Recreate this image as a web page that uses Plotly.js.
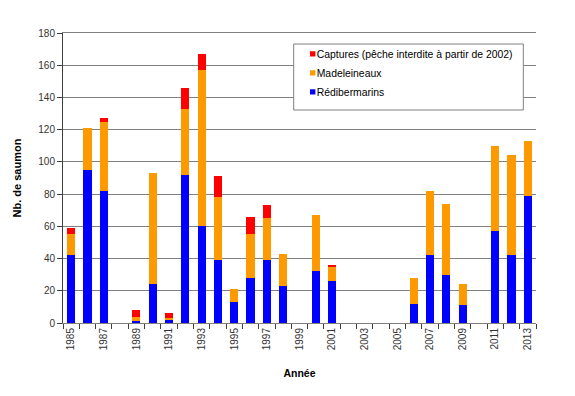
<!DOCTYPE html>
<html>
<head>
<meta charset="utf-8">
<script src="https://cdn.plot.ly/plotly-3.0.1.min.js"></script>
<style>html,body{margin:0;padding:0;background:#fff;}#chart{width:575px;height:396px;}</style>
</head>
<body>
<div id="chart"></div>
<script>
const years = [1985,1986,1987,1988,1989,1990,1991,1992,1993,1994,1995,1996,1997,1998,1999,2000,2001,2002,2003,2004,2005,2006,2007,2008,2009,2010,2011,2012,2013];
const redibermarins = [42,95,82,0,1,24,2,92,60,39,13,28,39,23,0,32,26,0,0,0,0,12,42,30,11,0,57,42,79];
const madeleineaux  = [13,26,43,0,3,69,1,41,97,39,8,27,26,20,0,35,9,0,0,0,0,16,40,44,13,0,53,62,34];
const captures      = [4,0,2,0,4,0,3,13,10,13,0,11,8,0,0,0,1,0,0,0,0,0,0,0,0,0,0,0,0];
const seriesNames = ["Rédibermarins","Madeleineaux","Captures (pêche interdite à partir de 2002)"];
const colors = ["#0000FF","#FF9900","#FF0000"];

const data = [redibermarins, madeleineaux, captures].map((vals,i)=>({
  type:'bar', x: years, y: vals, name: seriesNames[i],
  marker:{color:colors[i], line:{width:0}}, hoverinfo:'x+y+name'
}));

const fam = '"Liberation Sans", Arial, sans-serif';
const layout = {
  width:575, height:396,
  margin:{l:63, r:39, t:33, b:73},
  barmode:'stack', bargap:0.5,
  paper_bgcolor:'#fff', plot_bgcolor:'#fff',
  font:{family:fam, size:10, color:'#333'},
  showlegend:true,
  legend:{x:0.4518, y:0.978, xanchor:'left', yanchor:'top', traceorder:'reversed',
    bgcolor:'rgba(0,0,0,0)', borderwidth:0,
    font:{family:fam, size:10.4, color:'#000'}},
  shapes:[{type:'rect', xref:'paper', yref:'paper', x0:0.4877, x1:0.9732, y0:0.7345, y1:0.962,
    fillcolor:'#fff', line:{color:'#808080', width:1}, layer:'above'}],
  xaxis:{
    range:[1984.5, 2013.5], tickmode:'linear', tick0:1985, dtick:2,
    tickangle:-90, ticks:'', showgrid:false, zeroline:false,
    showline:true, linecolor:'#808080', linewidth:1, mirror:true,
    tickfont:{family:fam, size:10, color:'#333'},
    minor:{tickmode:'linear', tick0:1984.5, dtick:1, ticks:'outside', ticklen:5, tickcolor:'#404040', showgrid:false},
    title:{text:'Année', font:{family:fam, size:10.5, color:'#000', weight:'bold'}, standoff:20}
  },
  yaxis:{
    range:[0,180], tickmode:'linear', tick0:0, dtick:20,
    ticks:'outside', ticklen:5, tickcolor:'#404040',
    showgrid:true, gridcolor:'#808080', gridwidth:1, zeroline:false,
    showline:true, linecolor:'#404040', linewidth:1,
    tickfont:{family:fam, size:10, color:'#333'},
    title:{text:'Nb. de saumon', font:{family:fam, size:11, color:'#000', weight:'bold'}, standoff:14}
  }
};
Plotly.newPlot('chart', data, layout, {staticPlot:true, displayModeBar:false}).then(()=>{
  document.querySelectorAll('#chart .legendpoints path').forEach(p=>{
    p.setAttribute('transform','translate(36,0) scale(0.45)');
  });
});
</script>
</body>
</html>
